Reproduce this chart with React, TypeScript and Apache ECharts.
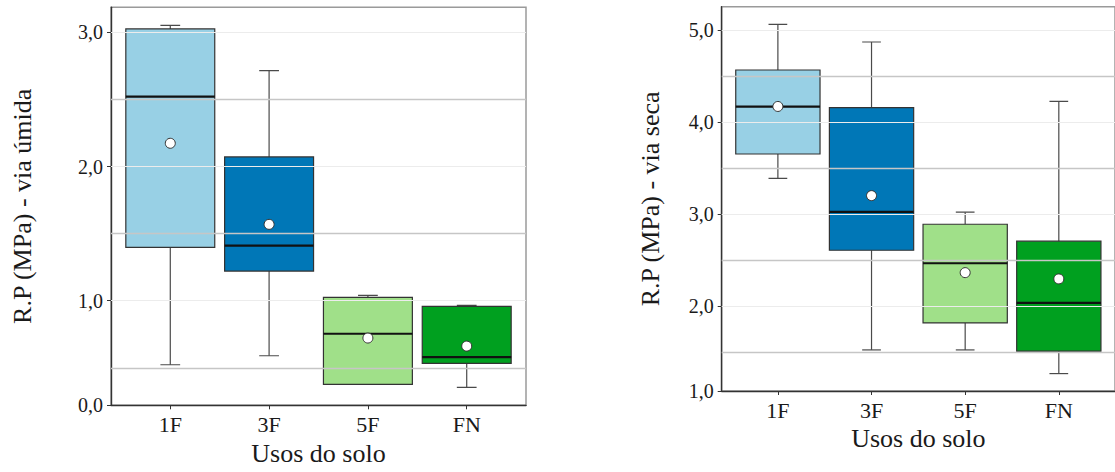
import React, { useEffect, useRef } from "react";
import * as echarts from "echarts";

// ---- data ----
const categories = ["1F", "3F", "5F", "FN"];
const boxColors = ["#98D0E5", "#0077B7", "#A0E089", "#00A01F"];

// Left panel: R.P (MPa) - via úmida
const wetMin = [0.523, 0.59, 0.377, 0.355];
const wetQ1 = [1.398, 1.221, 0.377, 0.534];
const wetMedian = [2.52, 1.41, 0.754, 0.58];
const wetQ3 = [3.025, 2.071, 1.025, 0.958];
const wetMax = [3.052, 2.714, 1.04, 0.966];
const wetMean = [2.173, 1.569, 0.722, 0.662];
const wetTickValues = [1, 2, 3];
const wetBottomLabel = "0,0";
const wetHalfLines = [0.5, 1.5, 2.5];

// Right panel: R.P (MPa) - via seca
const dryMin = [3.39, 1.527, 1.527, 1.27];
const dryQ1 = [3.654, 2.609, 1.82, 1.513];
const dryMedian = [4.168, 3.025, 2.468, 2.037];
const dryQ3 = [4.566, 4.157, 2.891, 2.707];
const dryMax = [5.062, 4.87, 3.022, 4.226];
const dryMean = [4.17, 3.202, 2.366, 2.298];
const dryTickValues = [2, 3, 4, 5];
const dryBottomLabel = "1,0";
const dryHalfLines = [1.5, 2.5, 3.5, 4.5];

const FONT = "'Liberation Serif', 'DejaVu Serif', serif";
const X_MIN = -0.6;
const X_MAX = 3.6;

function makeRender() {
  return (params: any, api: any) => {
    const x = api.value(0);
    const mn = api.value(1);
    const q1 = api.value(2);
    const md = api.value(3);
    const q3 = api.value(4);
    const mx = api.value(5);
    const mean = api.value(6);
    const c = (dx: number, v: number) => api.coord([x + dx, v]);
    const pMin = c(0, mn);
    const pQ1 = c(0, q1);
    const pQ3 = c(0, q3);
    const pMax = c(0, mx);
    const tl = c(-0.45, q3);
    const br = c(0.45, q1);
    const mL = c(-0.45, md);
    const mR = c(0.45, md);
    const capL = c(-0.1, mx)[0];
    const capR = c(0.1, mx)[0];
    const pMean = c(0, mean);
    const wStyle = { stroke: "#4a4a4a", lineWidth: 1.2 };
    return {
      type: "group",
      children: [
        { type: "line", shape: { x1: pQ3[0], y1: pQ3[1], x2: pMax[0], y2: pMax[1] }, style: wStyle },
        { type: "line", shape: { x1: capL, y1: pMax[1], x2: capR, y2: pMax[1] }, style: wStyle },
        { type: "line", shape: { x1: pQ1[0], y1: pQ1[1], x2: pMin[0], y2: pMin[1] }, style: wStyle },
        { type: "line", shape: { x1: capL, y1: pMin[1], x2: capR, y2: pMin[1] }, style: wStyle },
        {
          type: "rect",
          shape: { x: tl[0], y: tl[1], width: br[0] - tl[0], height: br[1] - tl[1] },
          style: { fill: boxColors[params.dataIndex], stroke: "#333", lineWidth: 1.2 },
        },
        { type: "line", shape: { x1: mL[0], y1: mL[1], x2: mR[0], y2: mR[1] }, style: { stroke: "#111", lineWidth: 2.2 } },
        { type: "circle", shape: { cx: pMean[0], cy: pMean[1], r: 5 }, style: { fill: "#fff", stroke: "#333", lineWidth: 1 } },
      ],
    };
  };
}

function gridLines(halfLines: number[], ticks: number[]) {
  const data: any[] = [];
  ticks.forEach((v) =>
    data.push([
      { coord: [X_MIN, v], lineStyle: { color: "#ececec", width: 1, type: "solid" } },
      { coord: [X_MAX, v] },
    ])
  );
  categories.forEach((_, i) =>
    data.push([
      { coord: [i, -100], lineStyle: { color: "#ececec", width: 1, type: "solid" } },
      { coord: [i, 100] },
    ])
  );
  halfLines.forEach((v) =>
    data.push([
      { coord: [X_MIN, v], lineStyle: { color: "#c6c6c6", width: 1.4, type: "solid" } },
      { coord: [X_MAX, v] },
    ])
  );
  return data;
}

export default function App() {
  const ref = useRef<HTMLDivElement>(null);
  useEffect(() => {
    document.body.style.margin = "0";
    const chart = echarts.init(ref.current!, undefined, { renderer: "svg" });

    const panels = [
      {
        min: 0.221, max: 3.186, ticks: wetTickValues, bottom: wetBottomLabel, half: wetHalfLines,
        name: "R.P (MPa) - via úmida", nameGap: 76,
        mins: wetMin, q1: wetQ1, med: wetMedian, q3: wetQ3, maxs: wetMax, mean: wetMean,
      },
      {
        min: 1.081, max: 5.253, ticks: dryTickValues, bottom: dryBottomLabel, half: dryHalfLines,
        name: "R.P (MPa) - via seca", nameGap: 58,
        mins: dryMin, q1: dryQ1, med: dryMedian, q3: dryQ3, maxs: dryMax, mean: dryMean,
      },
    ];

    const grids = [
      { left: 111, top: 7.3, width: 415, height: 398 },
      { left: 721.7, top: 6.7, width: 400.3, height: 384.3 },
    ].map((g) => ({ ...g, show: true, borderColor: "#9a9a9a", borderWidth: 1.5, backgroundColor: "#fff" }));

    const xAxes = panels.map((_, k) => ({
      type: "value",
      gridIndex: k,
      min: X_MIN,
      max: X_MAX,
      name: "Usos do solo",
      nameLocation: "middle",
      nameGap: 34,
      nameTextStyle: { fontFamily: FONT, fontSize: 26, color: "#1a1a1a" },
      axisLine: { show: true, onZero: false, lineStyle: { color: "#333", width: 1.4 } },
      axisTick: { show: true, length: 4, customValues: [0, 1, 2, 3], lineStyle: { color: "#333" } },
      axisLabel: {
        customValues: [0, 1, 2, 3],
        formatter: (v: number) => categories[Math.round(v)] ?? "",
        fontFamily: FONT, fontSize: 22, color: "#1a1a1a", margin: 8,
      },
      splitLine: { show: false },
    }));

    const yAxes = panels.map((p, k) => ({
      type: "value",
      gridIndex: k,
      min: p.min,
      max: p.max,
      name: p.name,
      nameLocation: "middle",
      nameGap: p.nameGap,
      nameTextStyle: { fontFamily: FONT, fontSize: 26, color: "#1a1a1a" },
      axisLine: { show: true, onZero: false, lineStyle: { color: "#333", width: 1.4 } },
      axisTick: { show: true, length: 4, customValues: [p.min, ...p.ticks], lineStyle: { color: "#333" } },
      axisLabel: {
        customValues: [p.min, ...p.ticks],
        formatter: (v: number) => (Math.abs(v - p.min) < 1e-6 ? p.bottom : v.toFixed(1).replace(".", ",")),
        fontFamily: FONT, fontSize: 20, color: "#1a1a1a", margin: 8,
      },
      splitLine: { show: false },
    }));

    const series: any[] = [];
    panels.forEach((p, k) => {
      series.push({
        type: "line",
        xAxisIndex: k,
        yAxisIndex: k,
        data: [],
        silent: true,
        z: 1,
        markLine: { silent: true, symbol: ["none", "none"], label: { show: false }, data: gridLines(p.half, p.ticks) },
      });
      series.push({
        type: "custom",
        xAxisIndex: k,
        yAxisIndex: k,
        z: 3,
        clip: true,
        renderItem: makeRender(),
        encode: { x: 0, y: [1, 2, 3, 4, 5, 6] },
        data: categories.map((_, i) => [i, p.mins[i], p.q1[i], p.med[i], p.q3[i], p.maxs[i], p.mean[i]]),
      });
    });

    chart.setOption({
      animation: false,
      backgroundColor: "#fff",
      grid: grids,
      xAxis: xAxes,
      yAxis: yAxes,
      series,
    });
    return () => chart.dispose();
  }, []);
  return <div ref={ref} style={{ position: "fixed", left: 0, top: 0, width: 1115, height: 472 }} />;
}
